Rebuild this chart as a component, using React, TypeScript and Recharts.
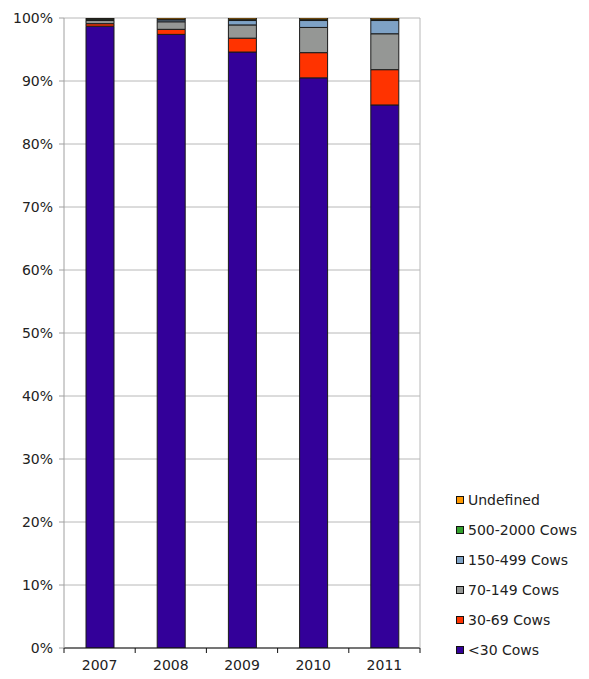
import React from 'react';
import { BarChart, Bar, XAxis, YAxis, CartesianGrid } from 'recharts';

// Herd-size share per year (percent of herds)
const years = ['2007', '2008', '2009', '2010', '2011'];
const under30 = [98.7, 97.4, 94.6, 90.5, 86.2];
const cows30to69 = [0.4, 0.8, 2.2, 4.0, 5.6];
const cows70to149 = [0.5, 1.2, 2.1, 4.0, 5.7];
const cows150to499 = [0.2, 0.3, 0.7, 1.1, 2.1];
const cows500to2000 = [0.1, 0.1, 0.2, 0.2, 0.2];
const undefinedSize = [0.1, 0.2, 0.2, 0.2, 0.2];
const yTicks = [0, 10, 20, 30, 40, 50, 60, 70, 80, 90, 100];

const series = [
  { key: 'lt30', name: '<30 Cows', color: '#330099', values: under30 },
  { key: 'c30', name: '30-69 Cows', color: '#FF3300', values: cows30to69 },
  { key: 'c70', name: '70-149 Cows', color: '#959795', values: cows70to149 },
  { key: 'c150', name: '150-499 Cows', color: '#7EA2C6', values: cows150to499 },
  { key: 'c500', name: '500-2000 Cows', color: '#33A02C', values: cows500to2000 },
  { key: 'undef', name: 'Undefined', color: '#FF9900', values: undefinedSize },
];

const data = years.map((year, i) => {
  const row: Record<string, string | number> = { year };
  series.forEach((s) => {
    row[s.key] = s.values[i];
  });
  return row;
});

const FONT = '"DejaVu Sans", sans-serif';
const TEXT = '#222';
const TICK_GAP = 12; // distance from axis line to label anchor
const TICK_LEN = 5;

// Year label plus tick marks on the category boundaries (left edge of each band,
// and the right edge for the last band).
const YearTick = (props: any) => {
  const { x, y, payload, index, visibleTicksCount } = props;
  const half = payload?.offset ?? 0;
  const axisY = y - TICK_GAP;
  const isLast = index === (visibleTicksCount ?? years.length) - 1;
  return (
    <g>
      <line x1={x - half} x2={x - half} y1={axisY} y2={axisY + TICK_LEN} stroke="#111" />
      {isLast && <line x1={x + half} x2={x + half} y1={axisY} y2={axisY + TICK_LEN} stroke="#111" />}
      <text
        x={x}
        y={y}
        dy="0.71em"
        textAnchor="middle"
        fontFamily={FONT}
        fontSize={14}
        fill={TEXT}
      >
        {payload.value}
      </text>
    </g>
  );
};

const LegendList = () => (
  <div
    style={{
      position: 'absolute',
      left: 456,
      top: 485,
      fontFamily: FONT,
      fontSize: 14,
      color: TEXT,
    }}
  >
    {[...series].reverse().map((s) => (
      <div key={s.key} style={{ height: 30, display: 'flex', alignItems: 'center', whiteSpace: 'nowrap' }}>
        <span
          style={{
            display: 'inline-block',
            width: 6,
            height: 6,
            background: s.color,
            border: '1px solid #111',
            marginRight: 4,
          }}
        />
        <span>{s.name}</span>
      </div>
    ))}
  </div>
);

export default function App() {
  return (
    <div style={{ position: 'absolute', left: 0, top: 0, width: 589, height: 679, background: '#fff' }}>
      <BarChart
        width={589}
        height={679}
        data={data}
        margin={{ top: 18, right: 168, bottom: 6, left: 0 }}
      >
        <CartesianGrid vertical={false} stroke="#b8b8b8" />
        <XAxis
          dataKey="year"
          height={25}
          axisLine={{ stroke: '#111' }}
          tickLine={false}
          tickSize={0}
          tickMargin={TICK_GAP}
          interval={0}
          tick={<YearTick />}
        />
        <YAxis
          domain={[0, 100]}
          ticks={yTicks}
          allowDataOverflow
          width={64}
          tickFormatter={(v: number) => `${v}%`}
          axisLine={{ stroke: '#a0a0a0' }}
          tickLine={{ stroke: '#a0a0a0' }}
          tickSize={5}
          tickMargin={6}
          tick={{ fontFamily: FONT, fontSize: 14, fill: TEXT }}
        />
        <YAxis
          yAxisId="right"
          orientation="right"
          domain={[0, 100]}
          width={1}
          tick={false}
          tickLine={false}
          axisLine={{ stroke: '#b8b8b8' }}
        />
        {series.map((s) => (
          <Bar
            key={s.key}
            dataKey={s.key}
            name={s.name}
            stackId="herd"
            barSize={28}
            fill={s.color}
            stroke="#1a1a1a"
            strokeWidth={1}
            isAnimationActive={false}
          />
        ))}
      </BarChart>
      <LegendList />
    </div>
  );
}
